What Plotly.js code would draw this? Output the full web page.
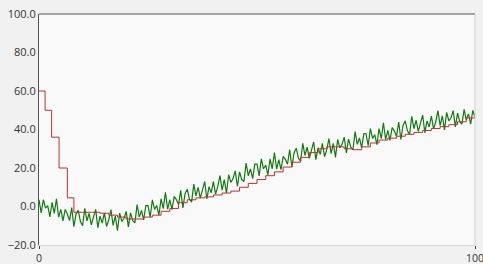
<!DOCTYPE html>
<html>
<head>
<meta charset="utf-8">
<script src="https://cdn.plot.ly/plotly-3.0.1.min.js"></script>
<style>html,body{margin:0;padding:0;background:#f1f1f1;}#chart{width:483px;height:264px;}</style>
</head>
<body>
<div id="chart"></div>
<script>
// Red stepped setpoint series
const redX = [0, 1.4, 2.9, 4.6, 6.5, 8, 10, 12, 14, 16, 18, 20, 22, 24, 26, 28, 30, 32, 34, 36, 38, 40, 42, 44, 46, 48, 50, 52, 54, 56, 58, 60, 62, 64, 66, 68, 70, 72, 74, 76, 78, 80, 82, 84, 86, 88, 90, 92, 94, 96, 98, 100];
const redY = [60, 50, 36, 20, 4.5, -3, -3, -3, -3.5, -4.5, -5.5, -6.5, -6.5, -5.5, -4.5, -2.5, -1, 2, 3.5, 4.5, 5, 6, 7, 8, 10, 12, 14, 16, 18, 20.5, 23, 25.5, 28, 30, 31, 31, 30, 29.5, 31, 33, 34.5, 35.5, 36.5, 37.5, 38.5, 39.5, 40.5, 41.5, 42.5, 44, 46, 46.5];

// Green noisy measured series, sampled every 0.5 on x starting at 0
const greenStart = 0;
const greenStep = 0.5;
const greenY = [
  3.5, -3.3, 3.5, -0.8, 0.5, -5.4, 2.2, -3.6, 4.0, -5.5, -1.5, -7.5, -1.5, -3.9, -7.3, -0.6,
  -10.5, -3.8, -2.0, -7.8, -10, -1, -7.5, -3.5, -9.5, -5.5, -1.5, -11, -5, -8.6, -3.3, -10.4,
  -7, -1.6, -9.8, -4.9, -12.5, -3.4, -7.8, -6.1, -2.5, -10.6, -3.3, -7.4, -8.5, 1, -5.5, -2,
  -7, 0.5, 0.5, -5.5, 3.5, -1.5, 0.5, -4.5, 4, -1.1, 7.3, -1.4, 3.5, -1.6, 5.3, 3.6,
  1, 8.4, -0.7, 6.6, 9, 3.9, 2.3, 11.6, 5.5, 9.9, 4.3, 8.6, 13, 3.9, 10.3, 7.1,
  13, 6.4, 10.3, 16.1, 8.5, 14, 7, 16.5, 12.5, 14.5, 18.5, 10.5, 18, 14, 13, 22.5,
  16, 19.5, 14.5, 22, 22, 15.9, 24.8, 19.6, 21.5, 16.4, 24.8, 19.6, 28, 19.4, 24.3, 19.1,
  26, 24.5, 22, 29.5, 20.5, 27.9, 30.3, 25.1, 23.5, 32.8, 26.5, 30.8, 25, 29.3, 33.5, 24.3,
  30.5, 27.1, 32.8, 25.9, 29.5, 35.3, 27.5, 32.8, 25.5, 34.8, 30.5, 32.3, 36, 27.8, 35, 30.8,
  29.5, 38.9, 32.3, 35.6, 30.5, 37.9, 37.8, 31.6, 40.5, 35.4, 37.3, 32.1, 40.5, 35.3, 43.5, 34.8,
  39.5, 34.3, 41, 39.3, 36.5, 43.9, 34.8, 42.1, 44.5, 39.3, 37.5, 46.8, 40.5, 44.8, 39, 43.3,
  47.5, 38.3, 44.5, 41.3, 47, 40.3, 44, 49.8, 42, 47.1, 39.8, 48.9, 44.5, 46.1, 49.8, 41.4,
  48.5, 44.1, 42.8, 50.5, 45, 48.1, 42.8, 49.9, 46.5
];

const xTicks = [0, 100];
const xTickText = ['0', '100'];
const yTicks = [-20, 0, 20, 40, 60, 80, 100];

const traces = [
  {
    type: 'scatter', mode: 'lines', name: 'measured',
    x0: greenStart, dx: greenStep, y: greenY,
    line: {color: '#137a13', width: 1.2}
  },
  {
    type: 'scatter', mode: 'lines', name: 'setpoint',
    x: redX, y: redY,
    line: {color: '#b8332e', width: 1, shape: 'hv'}
  }
];

const layout = {
  width: 483, height: 264,
  margin: {l: 39, r: 8, t: 14, b: 19, pad: 0},
  paper_bgcolor: '#f1f1f1',
  plot_bgcolor: '#f9f9f9',
  showlegend: false,
  font: {family: 'Open Sans, DejaVu Sans, sans-serif', size: 11, color: '#333333'},
  xaxis: {
    range: [0, 100], tickvals: xTicks, ticktext: xTickText,
    ticks: 'outside', ticklen: 3, tickcolor: '#444', tickwidth: 1,
    tickfont: {size: 10.5},
    ticklabeloverflow: 'allow',
    showgrid: false, zeroline: false, showline: true, linecolor: '#d6d6d6', linewidth: 1,
    fixedrange: true
  },
  yaxis: {
    range: [-20, 100], tickvals: yTicks, tickformat: '.1f',
    ticks: '', showgrid: false, zeroline: false, ticklabeloverflow: 'allow',
    showline: true, linecolor: '#555555', linewidth: 1, fixedrange: true
  },
  shapes: [
    {type: 'line', xref: 'paper', yref: 'paper', x0: 0, x1: 1, y0: 1, y1: 1, line: {color: '#555555', width: 1}},
    {type: 'line', xref: 'paper', yref: 'paper', x0: 1, x1: 1, y0: 0, y1: 1, line: {color: '#d0d0d0', width: 1}}
  ]
};

Plotly.newPlot('chart', traces, layout, {staticPlot: true, displayModeBar: false});
</script>
</body>
</html>
